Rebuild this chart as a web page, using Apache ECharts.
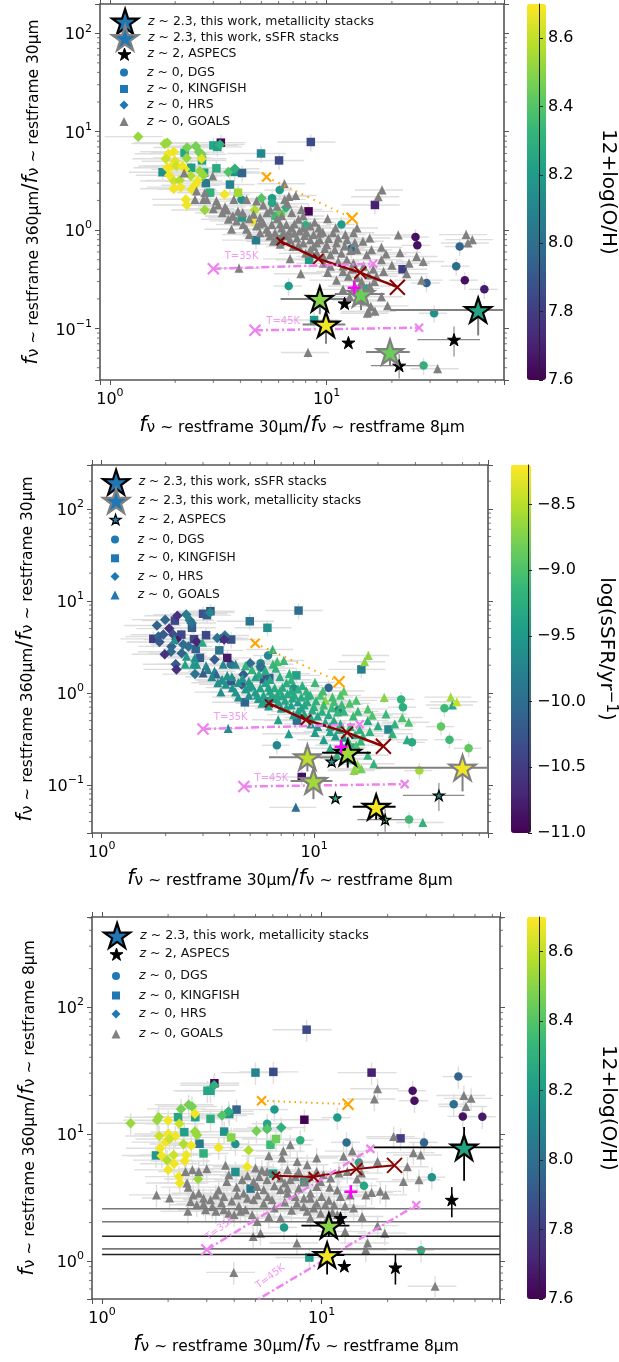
<!DOCTYPE html>
<html><head><meta charset="utf-8">
<style>html,body{margin:0;padding:0;background:#fff}#c{width:619px;height:1362px}</style>
<script src="https://cdn.jsdelivr.net/npm/echarts@6/dist/echarts.min.js"></script>
</head><body><div id="c"></div>
<script>
// ---- data: [x, y, colour value(s)] ----
// KINGFISH, panels 1 and 2: x, f360/f30, 12+log(O/H), log sSFR
const kingfish = [[3.25,7.73,7.62,-10.3],[3.0,7.25,8.25,-10.3],[3.13,7.0,8.22,-10.2],[2.21,6.1,8.25,-10.4],[2.66,5.1,8.22,-10.2],[4.98,6.0,8.1,-9.9],[8.45,7.85,7.85,-10.0],[6.03,5.1,7.85,-9.6],[1.75,3.87,8.15,-10.5],[2.37,4.3,8.22,-10.4],[2.72,3.83,8.22,-10.4],[3.1,4.24,8.28,-10.4],[3.77,3.9,8.15,-10.5],[4.07,3.8,7.95,-10.3],[2.77,3.0,8.05,-10.1],[3.58,2.9,8.1,-9.95],[2.9,2.4,8.3,-10.2],[3.9,2.4,8.55,-10.8],[8.25,1.55,7.6,-9.4],[16.7,1.8,7.7,-9.8],[4.06,1.34,8.2,-10.3],[5.8,1.4,8.35,-10.3],[6.15,1.45,8.45,-10.2],[4.72,0.79,8.05,-10.1],[6.03,0.81,8.2,-10.1],[8.3,0.5,8.2,-10.0],[22.4,0.4,7.8,-9.7],[8.75,0.122,8.2,-10.9]];
const dgs = [[4.05,2.03,8.15,-9.9],[6.07,2.55,8.2,-9.7],[5.6,2.1,8.2,-9.7],[5.6,1.88,8.25,-9.6],[8.0,1.12,8.3,-9.6],[11.7,1.14,8.2,-10.1],[13.0,0.65,8.0,-9.8],[25.7,0.85,7.65,-9.2],[26.2,0.7,7.65,-9.25],[41.1,0.68,7.95,-9.1],[39.6,0.43,8.0,-8.9],[28.9,0.29,7.95,-9.3],[43.4,0.31,7.65,-9.1],[53.4,0.25,7.68,-8.9],[31.3,0.143,8.15,-8.6],[6.68,0.27,8.2,-9.7],[28.0,0.042,8.3,-9.1],[15.3,0.255,8.25,-9.3]];
const hrsMetal = [[1.35,8.9,8.53],[1.79,7.55,8.53],[1.84,7.7,8.53],[2.27,6.9,8.47],[2.49,7.1,8.47],[3.22,7.4,8.3],[2.58,6.2,8.47],[2.65,5.9,8.47],[2.65,5.3,8.65],[2.26,5.4,8.53],[1.97,6.25,8.68],[1.86,5.97,8.68],[1.81,5.3,8.62],[2.0,5.0,8.65],[1.84,4.3,8.68],[1.93,4.47,8.68],[2.03,4.47,8.62],[2.16,4.47,8.68],[2.22,4.14,8.68],[1.88,3.6,8.68],[2.36,3.55,8.57],[2.6,3.98,8.53],[2.7,3.6,8.53],[3.52,3.9,8.4],[3.77,4.2,8.3],[1.97,3.15,8.62],[2.1,3.2,8.57],[2.54,3.15,8.68],[2.47,2.85,8.68],[1.97,2.63,8.68],[2.12,2.73,8.68],[2.38,2.59,8.68],[3.38,2.3,8.68],[2.24,2.05,8.68],[2.26,1.8,8.68],[2.74,1.6,8.53],[4.66,1.6,8.57],[4.54,1.24,8.68],[5.0,2.1,8.4],[6.5,1.7,8.3]];
const hrsSsfr = [[1.99,6.25,-10.05],[2.27,6.9,-10.6],[1.82,5.4,-10.1],[2.5,7.1,-9.8],[2.6,6.15,-9.8],[2.65,5.75,-9.9],[3.24,7.5,-9.7],[2.08,5.0,-10.6],[1.85,4.1,-10.1],[1.95,4.3,-10.2],[1.87,3.58,-10.2],[2.25,3.8,-10.8],[2.17,4.3,-10.3],[2.13,3.2,-10.1],[2.12,2.8,-10.0],[1.98,2.63,-10.6],[2.42,3.35,-10.0],[2.38,2.7,-10.1],[2.56,3.2,-10.0],[2.8,3.6,-10.7],[3.8,4.2,-9.9],[3.5,3.95,-9.9],[3.77,3.8,-10.6],[2.23,2.05,-10.2],[2.25,1.8,-10.6],[2.75,1.6,-9.9],[3.4,2.3,-10.2],[4.65,1.58,-10.2],[5.0,2.1,-10.0],[5.6,1.93,-10.0],[4.56,1.23,-10.3]];
// GOALS, panels 1 and 2: x, f360/f30, log sSFR
const goals = [[6.38,2.96,-9.2],[18.0,2.55,-8.7],[17.3,2.18,-8.7],[7.2,2.25,-9.1],[6.7,2.2,-9.05],[6.4,2.05,-9.15],[2.98,3.55,-9.3],[2.51,2.5,-9.5],[2.74,2.4,-9.6],[2.47,2.05,-9.4],[2.7,2.05,-9.5],[2.8,2.05,-9.55],[3.1,1.97,-9.7],[3.16,1.8,-9.8],[3.0,1.65,-10.2],[3.4,1.72,-9.7],[3.47,1.6,-10.1],[3.73,2.05,-9.7],[4.75,1.97,-9.2],[4.27,2.05,-9.75],[5.5,1.6,-9.3],[5.1,1.8,-9.2],[5.9,1.75,-9.3],[6.6,1.85,-9.2],[7.65,1.62,-9.2],[3.67,1.38,-9.6],[2.2,3.8,-9.6],[3.7,1.39,-9.6],[3.52,1.29,-9.6],[3.84,1.24,-9.6],[3.64,1.02,-9.6],[4.12,1.14,-9.6],[4.27,1.02,-9.55],[4.93,1.34,-9.5],[5.1,1.19,-9.5],[4.75,1.1,-9.5],[4.93,0.94,-9.6],[5.28,1.02,-9.45],[5.58,1.14,-9.4],[5.78,0.94,-9.4],[6.2,1.05,-9.35],[6.52,1.14,-9.3],[6.9,1.05,-9.25],[7.41,1.29,-9.25],[7.8,1.39,-9.2],[8.4,1.1,-9.25],[8.09,0.94,-9.3],[9.2,1.05,-9.2],[10.1,1.3,-9.1],[13.8,1.05,-8.9],[13.3,0.94,-9.0],[11.3,0.83,-8.7],[10.7,0.94,-9.0],[21.4,0.89,-8.7],[44,0.9,-8.6],[44.8,0.74,-9.3],[47,0.8,-8.45],[5.68,0.77,-9.4],[5.47,0.87,-9.5],[6.52,0.87,-9.4],[7.3,0.83,-9.35],[6.78,0.8,-9.4],[7.8,0.74,-9.4],[8.4,0.8,-9.45],[9.0,0.74,-9.35],[10,0.71,-9.2],[10.9,0.63,-9.25],[14.7,0.77,-9.0],[15.8,0.83,-9.0],[17.9,0.67,-9.0],[16.1,0.63,-9.1],[21.8,0.59,-9.1],[26.0,0.54,-9.0],[27.9,0.48,-9.0],[20,0.44,-9.3],[24,0.46,-9.2],[17.9,0.5,-9.3],[18.3,0.38,-9.2],[23.4,0.36,-9.2],[27.4,0.31,-9.3],[6.78,0.51,-9.4],[7.6,0.36,-9.45],[3.94,0.41,-9.6],[8.4,0.63,-9.45],[9,0.59,-9.4],[9.66,0.54,-9.4],[10.4,0.43,-9.5],[9.66,0.46,-9.5],[11.3,0.48,-9.4],[12.4,0.5,-9.3],[13.3,0.46,-9.3],[11.9,0.38,-9.4],[11.1,0.31,-9.45],[12.6,0.34,-9.5],[13.8,0.33,-9.5],[15.6,0.35,-9.3],[16.4,0.4,-9.2],[14.5,0.3,-9.2],[15.8,0.27,-9.0],[17.9,0.21,-9.15],[19.1,0.17,-9.2],[16,0.167,-8.7],[15.6,0.148,-8.6],[15.4,0.143,-8.7],[8.2,0.057,-10.0],[32.5,0.039,-9.2],[14.2,0.195,-9.1],[12.8,0.21,-9.2],[11.9,0.25,-9.3],[9.3,0.8,-9.3],[7.5,0.98,-9.3],[6.3,0.94,-9.35],[11.1,0.74,-9.1],[12.1,0.69,-9.1],[13.8,0.63,-9.15],[12.4,0.8,-9.05],[3.3,1.5,-9.7],[3.9,1.55,-9.6],[4.1,1.5,-9.6],[4.4,1.3,-9.55],[4.6,1.45,-9.5],[5.3,1.5,-9.4],[5.9,1.3,-9.4],[6.2,1.4,-9.35],[6.9,1.5,-9.3],[7.1,1.15,-9.3],[7.8,1.05,-9.3],[8.8,1.2,-9.25],[9.6,0.95,-9.2],[4.4,0.9,-9.6],[4.9,1.15,-9.5],[5.4,0.95,-9.45],[5.9,0.85,-9.45],[6.1,1.15,-9.4],[6.7,0.95,-9.35],[7.1,0.93,-9.35],[7.9,0.88,-9.35],[8.7,0.9,-9.3],[9.3,0.93,-9.25],[10.2,0.82,-9.2],[9.8,0.65,-9.3],[8.7,0.68,-9.4],[7.4,0.7,-9.4],[7,0.68,-9.45],[6.1,0.72,-9.45],[8.0,0.58,-9.45],[10.4,0.56,-9.35],[11.7,0.58,-9.3],[11.9,0.43,-9.35],[13.1,0.4,-9.3],[10.1,0.37,-9.45],[14.8,0.43,-9.2],[15.3,0.56,-9.1],[18.8,0.57,-9.0],[16.6,0.3,-9.15],[13.5,0.27,-9.25],[17,0.34,-9.2],[15.1,0.19,-9.0],[16.7,0.15,-8.8],[13.5,0.75,-9.1],[12.9,0.62,-9.15],[12.2,0.9,-9.05],[11,1.05,-9.05]];
// Panel 3: x, f360/f8, 12+log(O/H)
const kingfish3 = [[8.55,66,7.85],[5.0,30.3,8.1],[6.03,30.7,7.85],[16.9,30.3,7.7],[3.25,25,7.62],[3.02,21.8,8.25],[3.12,21.8,8.25],[4.1,15.5,7.95],[8.35,12.9,7.6],[2.22,13.5,8.25],[2.66,13.5,8.22],[3.12,13.1,8.28],[3.6,10.4,8.15],[3.87,9.35,8.5],[2.37,10.3,8.22],[2.78,8.35,8.05],[1.76,6.75,8.2],[2.9,7,8.3],[4.05,5,8.15],[4.75,3.7,8.05],[5.85,8.2,8.35],[6.2,9.1,8.45],[6.02,4.85,8.2],[8.35,4.15,8.2],[22.9,9.2,7.8],[8.8,1.06,8.2],[3.8,14.3,8.15]];
const dgs3 = [[42,28.2,7.95],[26,21.8,7.65],[26.5,18.2,7.65],[40,17.1,8.0],[44,13.7,7.65],[54,13.6,7.68],[6.1,15.5,8.2],[5.65,12,8.25],[5.65,11,8.25],[11.8,13.4,8.2],[8.0,8.9,8.3],[13,8.55,8.0],[29.3,8.55,7.95],[4.05,8.3,8.15],[14.8,5.95,8.25],[15.6,3.9,8.25],[31.8,4.55,8.15],[6.75,1.83,8.2],[28.4,1.21,8.3]];
const hrs3 = [[1.35,12.1,8.53],[1.81,13.5,8.53],[1.78,12.8,8.53],[2.48,16.9,8.47],[2.29,15.7,8.47],[2.57,16.4,8.47],[2.65,14.4,8.68],[3.24,24.1,8.3],[2.0,12.7,8.68],[2.25,12,8.62],[3.77,15,8.3],[3.52,13.9,8.4],[1.82,9.6,8.62],[2.0,9.95,8.68],[2.16,9.6,8.68],[1.95,8.6,8.68],[2.03,9.1,8.62],[1.84,7.7,8.68],[1.87,6.7,8.68],[2.12,6.8,8.62],[2.35,8.3,8.57],[2.55,8.1,8.68],[2.71,9.8,8.53],[1.98,6.2,8.57],[2.13,5.8,8.68],[2.38,6.1,8.68],[2.42,6.8,8.68],[3.4,7.8,8.68],[4.65,7.4,8.57],[4.58,5.5,8.68],[2.0,5.2,8.68],[2.24,4.6,8.68],[2.26,4.1,8.68],[2.74,4.4,8.53],[5.05,10.5,8.47],[5.65,10.9,8.4],[6.55,11.2,8.3],[2.65,10.4,8.53]];
const goals3 = [[18,22.6],[17.4,18.8],[44.5,20],[48,19],[45.5,16.4],[7.2,8.2],[6.7,7.3],[5.75,6.7],[6.6,6.45],[7.75,6.05],[9.5,6.45],[8.6,5.7],[13.8,7.3],[12.6,6.65],[21.3,9.5],[26.2,7.1],[28.3,6.8],[18,6.05],[24.6,5.5],[23.6,4.2],[27.8,4.35],[15,5.9],[2.4,5.05],[2.58,5.2],[2.76,5.05],[3,5.3],[3.65,5.65],[3.78,4.75],[4.35,4.35],[3.4,3.6],[2.44,4.1],[2.47,3.8],[5.0,5.37],[5.35,5.15],[5.65,5.05],[4.6,4.67],[7,5.2],[7.87,5.05],[5.65,4.35],[6.5,4.48],[7.2,4.35],[8.3,4.2],[9.5,5.05],[10.2,4.75],[11,4.48],[12,4.9],[13.1,5.05],[9.5,3.85],[8.9,3.4],[7.87,3.73],[7,3.73],[6.5,3.62],[5.45,3.62],[5.09,3.85],[4.42,3.4],[4.12,3.3],[3.59,3.2],[3.12,3.02],[2.76,3.4],[2.53,2.93],[2.7,2.76],[2.96,2.52],[3.18,2.68],[3.59,2.52],[3.78,2.37],[4.27,2.45],[4.5,2.52],[4.9,3.02],[5.45,2.84],[5.95,3.02],[7,3.4],[7.72,2.84],[8.3,2.68],[8.9,3.11],[9.5,2.84],[10.4,2.76],[11.4,2.76],[12.2,3.2],[14,2.6],[15.3,2.23],[9.9,2.37],[8.9,2.17],[6.5,2.17],[5.75,2.23],[5.09,2.04],[4.83,2.3],[5.27,1.65],[4.88,1.55],[7.72,1.38],[12.8,1.7],[16.2,1.38],[15.9,1.22],[19.4,1.65],[18,1.89],[11.8,2.3],[15.9,3.3],[16.9,3.45],[18.5,3.52],[19.6,3.3],[1.77,3.3],[2.03,3.12],[2.46,2.45],[3.98,0.81],[32.9,0.63],[2.6,3.3],[2.9,3.1],[3.3,3.3],[3.5,2.85],[3.9,2.95],[4.2,2.7],[4.6,3.1],[4.0,2.3],[3.3,2.45],[2.9,2.8],[5.1,3.3],[5.7,3.2],[6.1,2.6],[6.8,2.9],[7.3,2.5],[7.6,3.2],[8.3,3.1],[8.6,2.45],[9.2,2.6],[10,3.2],[10.8,3],[11.2,2.4],[10.6,2.15],[12.8,2.7],[13.5,3.3],[6.1,3.9],[6.8,4.1],[7.6,4.6],[8.8,4.6],[9.9,4.2],[10.9,3.8],[11.8,3.6],[5.2,4.6],[4.9,4.2],[3.7,4.2],[4.1,3.8],[14.5,4.4],[15.2,4.9]];
// ASPECS: x, y, colour, xlo, xhi, ylo, yhi
const aspecs12 = [[12.1,0.18,-9.7,12.1,12.1,0.18,0.18],[12.6,0.072,-9.3,12.6,12.6,0.072,0.072],[21.6,0.042,-9.05,16,28,0.031,0.055],[38.7,0.077,-9.7,26.2,51,0.052,0.105]];
const aspecs3 = [[39.2,3.02,39.2,39.2,2.2,3.8],[21.7,0.886,21.7,21.7,0.65,1.12],[12.7,0.91,12.7,12.7,0.91,0.91],[12.2,2.17,12.2,12.2,2.17,2.17]];
// Stacks: x, y, metallicity or sSFR, xlo, xhi, ylo, yhi
const metalStacks = [[9.3,0.2,8.5,6.13,12.6,0.14,0.26],[9.93,0.11,8.68,7.75,12.2,0.07,0.143],[50,0.154,8.24,19.6,66,0.085,0.2]];
const ssfrStacks = [[14.4,0.224,8.45,10.9,18.5,0.154,0.26],[19.6,0.0577,8.45,15.2,24.2,0.042,0.07]];
const metalStacksSsfr = [-8.48,-8.6,-8.25];
const ssfrStacksSsfr = [-8.6,-8.25];
const metalStacks3 = [[10.8,1.89,8.5,8.1,13.4,1.55,2.37],[10.6,1.11,8.68,8.6,12.7,0.78,1.34],[44.6,7.8,8.24,17.3,66,4.26,11.3]];
const wideBars3 = [[2.57,'#777'],[2.03,'#777'],[1.56,'#222'],[1.24,'#777'],[1.12,'#222']];
// Models
const orange12 = [[5.28,3.46],[13.1,1.32]], orange3 = [[5.33,18.2],[13.2,17.1]];
const darkred12 = [[6.13,0.77],[9.15,0.51],[14.3,0.37],[21.2,0.263]], darkred3 = [[6.2,4.67],[9.2,4.56],[14.4,5.27],[21.5,5.64]];
const t35_12 = [[3.0,0.405],[16.4,0.455]], t45_12 = [[4.67,0.096],[26.7,0.102]];
const t35_3 = [[3.0,1.22],[16.7,7.6]], t45_3 = [[4.67,0.45],[27,2.74]];
const plus12 = [[13.4,0.26]], plus3 = [[13.6,3.49]];
const minorMults = [2,3,4,5,6,7,8,9];
const decades = [-2,-1,0,1,2];

const FONT='DejaVu Sans';
const VIRIDIS=['#440154','#482878','#3e4989','#31688e','#26828e','#1f9e89','#35b779','#6ece58','#b5de2b','#fde725'];
const STAR='path://M50 0L61.2 34.6L97.6 34.5L68.1 55.9L79.4 90.5L50 69L20.6 90.5L31.9 55.9L2.4 34.5L38.8 34.6Z';
const CROSS='path://M0 0L10 10M10 0L0 10', PLUS='path://M5 0L5 10M0 5L10 5';
const BLUE='#1f77b4', GREY='#808080', LIGHT='#dedede', AXC='#555';
const N={m:'z ~ 2.3, this work, metallicity stacks',s:'z ~ 2.3, this work, sSFR stacks',a:'z ~ 2, ASPECS',d:'z ~ 0, DGS',k:'z ~ 0, KINGFISH',h:'z ~ 0, HRS',g:'z ~ 0, GOALS'};

const panels=[
 {l:100,t:4,w:404,h:376,xmax:65.8,ymin:0.03,ymax:198,cl:527,cw:19,cmin:7.6,cmax:8.7,civ:0.2,ytext:'30',nameGapX:32,nameGapY:58,cname:'12+log(O/H)',cGap:59,
  legend:{cx:124,tx:147,ys:[21,37.5,54,70.5,87,103.5,120],fs:12.45}},
 {l:92,t:465,w:396,h:368,xmax:65.9,ymin:0.03,ymax:300,cl:511,cw:20,cmin:-11,cmax:-8.2,civ:0.5,ytext:'30',nameGapX:32,nameGapY:56,cname:'{m|log(sSFR/yr}{u|−1}{m|)}',cGap:67,
  legend:{cx:115,tx:137.7,ys:[481.7,500.4,519,537.6,556.3,575,593.6],fs:12.25}},
 {l:92,t:917,w:408,h:382,xmax:65,ymin:0.5,ymax:509,cl:527,cw:19,cmin:7.6,cmax:8.7,civ:0.2,ytext:'8',nameGapX:32,nameGapY:54,cname:'12+log(O/H)',cGap:59,
  legend:{cx:116,tx:139,ys:[935,954,973.5,993,1012,1032],fs:12.6}}
];

const option={animation:false,backgroundColor:'#fff',textStyle:{fontFamily:FONT},grid:[],xAxis:[],yAxis:[],series:[],visualMap:[],legend:[]};

const logLabel=v=>{const l=Math.log10(v),e=Math.round(l);if(Math.abs(l-e)>1e-6)return '';return '{b|10}{e|'+(e<0?'−'+(-e):e)+'}';};
const logRich={b:{fontFamily:FONT,fontSize:16,color:'#000',verticalAlign:'bottom',lineHeight:20},e:{fontFamily:FONT,fontSize:11,color:'#000',verticalAlign:'top',lineHeight:20,padding:[0,0,6,0]}};
const nameRich={f:{fontFamily:FONT,fontStyle:'italic',fontSize:21,color:'#000',verticalAlign:'bottom',lineHeight:24},s:{fontFamily:FONT,fontSize:15.5,color:'#000',verticalAlign:'bottom',lineHeight:24,padding:[7,0,0,0]},n:{fontFamily:FONT,fontSize:21,color:'#000',verticalAlign:'bottom',lineHeight:24}};

function crossErr(xe,ye,color,lw){
  return (p,api)=>{const x=api.value(0),y=api.value(1);
    const a=api.coord([x*(1-xe),y]),b=api.coord([x*(1+xe),y]),c=api.coord([x,y*(1-ye)]),d=api.coord([x,y*(1+ye)]);
    return {type:'group',children:[
      {type:'line',shape:{x1:a[0],y1:a[1],x2:b[0],y2:b[1]},style:{stroke:color,lineWidth:lw}},
      {type:'line',shape:{x1:c[0],y1:c[1],x2:d[0],y2:d[1]},style:{stroke:color,lineWidth:lw}}]};};
}
function boundErr(color,lw){ // columns 2..5 : xlo,xhi,ylo,yhi
  return (p,api)=>{const x=api.value(0),y=api.value(1);
    const a=api.coord([api.value(2),y]),b=api.coord([api.value(3),y]),c=api.coord([x,api.value(4)]),d=api.coord([x,api.value(5)]);
    return {type:'group',children:[
      {type:'line',shape:{x1:a[0],y1:a[1],x2:b[0],y2:b[1]},style:{stroke:color,lineWidth:lw}},
      {type:'line',shape:{x1:c[0],y1:c[1],x2:d[0],y2:d[1]},style:{stroke:color,lineWidth:lw}}]};};
}

panels.forEach((P,i)=>{
  const gi=option.grid.length, ax=option.xAxis.length;
  option.grid.push({left:P.l,top:P.t,width:P.w,height:P.h,containLabel:false,show:false});
  option.grid.push({left:P.cl,top:P.t,width:P.cw,height:P.h,containLabel:false,show:false});
  const lineS={show:true,onZero:false,lineStyle:{color:AXC,width:1.6}};
  const tickS={show:true,length:5,lineStyle:{color:AXC,width:1}};
  const xmin=0.9;
  const common={type:'log',logBase:10,splitLine:{show:false},axisLine:lineS,axisTick:tickS};
  const sub=t=>'{f|f}{s|ν ~ restframe '+t+'μm}';
  option.xAxis.push({...common,gridIndex:gi,position:'bottom',min:xmin,max:P.xmax,
    axisLabel:{formatter:logLabel,rich:logRich,margin:8,showMinLabel:true,showMaxLabel:true,hideOverlap:false},
    name:sub('30')+'{n|/}'+sub('8'),nameLocation:'middle',nameGap:P.nameGapX,nameTextStyle:{rich:nameRich}});
  option.xAxis.push({...common,gridIndex:gi,position:'top',min:xmin,max:P.xmax,axisLabel:{show:false}});
  option.xAxis.push({type:'value',gridIndex:gi+1,min:0,max:1,show:false});
  option.yAxis.push({...common,gridIndex:gi,position:'left',min:P.ymin,max:P.ymax,
    axisLabel:{formatter:logLabel,rich:logRich,margin:8,hideOverlap:false},
    name:sub('360')+'{n|/}'+sub(P.ytext),nameLocation:'middle',nameRotate:90,nameGap:P.nameGapY,nameTextStyle:{rich:nameRich}});
  option.yAxis.push({...common,gridIndex:gi,position:'right',min:P.ymin,max:P.ymax,axisLabel:{show:false}});
  option.yAxis.push({type:'value',gridIndex:gi+1,position:'right',min:P.cmin,max:P.cmax,interval:P.civ,z:6,
    axisLine:{show:true,onZero:false,lineStyle:{color:'#222',width:1}},axisTick:{show:true,length:4,lineStyle:{color:'#222'}},splitLine:{show:false},
    axisLabel:{fontFamily:FONT,fontSize:16,color:'#000',margin:9,showMaxLabel:false,formatter:v=>v.toFixed(1).replace('-','−')},
    name:P.cname,nameLocation:'middle',nameRotate:-90,nameGap:P.cGap,
    nameTextStyle:{fontFamily:FONT,fontSize:20,color:'#000',rich:{m:{fontFamily:FONT,fontSize:20,color:'#000'},u:{fontFamily:FONT,fontSize:15,color:'#000',verticalAlign:'top',padding:[0,0,8,0]}}}});

  const onMain={xAxisIndex:ax,yAxisIndex:i*3};
  const s=option.series, vmIdx=[];
  const errSeries=(rows,xe,ye)=>s.push({type:'custom',...onMain,data:rows,renderItem:crossErr(xe,ye,LIGHT,1.4),clip:true,silent:true,z:1,encode:{x:0,y:1}});
  const bounds=(rows,color,lw)=>s.push({type:'custom',...onMain,data:rows,renderItem:boundErr(color,lw),clip:true,silent:true,z:5,encode:{x:0,y:1}});
  const scatter=(name,rows,sym,size,colored,extra)=>{ if(colored)vmIdx.push(s.length);
    s.push({type:'scatter',name,...onMain,data:rows,symbol:sym,symbolSize:size,symbolKeepAspect:true,itemStyle:{color:GREY,opacity:1},silent:true,z:3,...(extra||{})});};
  const starStyle=(border,w,color)=>({itemStyle:{opacity:1,borderColor:border,borderWidth:w,...(color?{color}:{})}});
  const model=(rows,color,lw,type,sym,sizes,symW)=>s.push({type:'line',...onMain,data:rows,symbol:sym,showSymbol:true,showAllSymbol:true,symbolSize:(v,p)=>sizes[p.dataIndex],
    lineStyle:{color,width:lw,type},itemStyle:{color:'none',borderColor:color,borderWidth:symW},silent:true,z:6});
  const tlabel=(txt,x,y,rot)=>s.push({type:'scatter',...onMain,symbolSize:0,silent:true,z:6,data:[{value:[x,y],name:txt}],
    label:{show:true,position:'inside',formatter:'{b}',fontFamily:FONT,fontSize:10,color:'#ee82ee',rotate:rot}});
  const plusMark=rows=>s.push({type:'scatter',...onMain,data:rows,symbol:PLUS,symbolSize:13,itemStyle:{opacity:1,color:'none',borderColor:'#ff00ff',borderWidth:2.5},silent:true,z:10});
  const bnd=rows=>rows.map(r=>[r[0],r[1],r[3],r[4],r[5],r[6]]);

  if(i<2){
    const c=i==0?2:3;
    const col=(rows,k)=>rows.map(r=>[r[0],r[1],r[k]]);
    errSeries(dgs.map(r=>r.slice(0,2)),0.15,0.2);errSeries(kingfish.map(r=>r.slice(0,2)),0.3,0.2);
    errSeries((i==0?hrsMetal:hrsSsfr).map(r=>r.slice(0,2)),0.3,0.12);errSeries(goals.map(r=>r.slice(0,2)),0.25,0.12);
    scatter(N.d,col(dgs,c),'circle',8.5,true);
    scatter(N.k,col(kingfish,c),'rect',8.5,true);
    scatter(N.h,i==0?hrsMetal:hrsSsfr,'diamond',10.5,true);
    scatter(N.g,i==0?goals.map(r=>[r[0],r[1]]):goals,'triangle',9,i==1);
    model(orange12,'#ffa500',2,[1.5,5],CROSS,[9,11],2.2);
    model(darkred12,'#8b0000',2.5,'solid',CROSS,[8,10,12,15],2);
    model(t35_12,'#ee82ee',2.5,[8,3,2,3],CROSS,[11,8],2.2);
    model(t45_12,'#ee82ee',2.5,[8,3,2,3],CROSS,[11,8],2.2);
    plusMark(plus12);
    tlabel('T=35K',4.05,0.54,0);tlabel('T=45K',6.3,0.117,0);
    bounds(bnd(aspecs12),'#8c8c8c',1.2);
    if(i==0){
      scatter(N.a,aspecs12.map(r=>[r[0],r[1]]),STAR,13,false,{...starStyle('#000',1,'#000'),z:6});
      bounds(bnd(metalStacks),'#808080',2);
      bounds(bnd(ssfrStacks),'#808080',2);
      scatter(N.s,ssfrStacks.map(r=>r.slice(0,3)),STAR,26,true,{...starStyle('#808080',2.2),z:8});
      scatter(N.m,metalStacks.map(r=>r.slice(0,3)),STAR,26,true,{...starStyle('#000',2.2),z:9});
    }else{
      scatter(N.a,aspecs12.map(r=>[r[0],r[1],r[2]]),STAR,11,true,{...starStyle('#000',1.2),z:6});
      bounds(bnd(metalStacks),'#808080',2);
      bounds(bnd(ssfrStacks),'#000',2);
      scatter(N.m,metalStacks.map((r,k)=>[r[0],r[1],metalStacksSsfr[k]]),STAR,26,true,{...starStyle('#808080',2.2),z:8});
      scatter(N.s,ssfrStacks.map((r,k)=>[r[0],r[1],ssfrStacksSsfr[k]]),STAR,26,true,{...starStyle('#000',2.2),z:9});
    }
  }else{
    errSeries(dgs3.map(r=>r.slice(0,2)),0.15,0.2);errSeries(kingfish3.map(r=>r.slice(0,2)),0.3,0.2);
    errSeries(hrs3.map(r=>r.slice(0,2)),0.3,0.2);errSeries(goals3,0.25,0.2);
    scatter(N.d,dgs3,'circle',8.5,true);
    scatter(N.k,kingfish3,'rect',8.5,true);
    scatter(N.h,hrs3,'diamond',10.5,true);
    scatter(N.g,goals3,'triangle',9,false);
    model(orange3,'#ffa500',2,[1.5,4],CROSS,[9,11],2.2);
    model(darkred3,'#8b0000',2,'solid',CROSS,[8,10,12,15],2);
    model(t35_3,'#ee82ee',2.5,[8,3,2,3],CROSS,[11,8],2.2);
    model(t45_3,'#ee82ee',2.5,[8,3,2,3],CROSS,[11,8],2.2);
    plusMark(plus3);
    tlabel('T=35K',3.45,1.8,37);tlabel('T=45K',5.85,0.75,37);
    bounds(wideBars3.filter(r=>r[1]=='#777').map(r=>[8,r[0],1,65,r[0],r[0]]),'#777',1.6);
    bounds(wideBars3.filter(r=>r[1]!='#777').map(r=>[8,r[0],1,65,r[0],r[0]]),'#222',1.4);
    bounds(aspecs3,'#000',1.6);
    scatter(N.a,aspecs3.map(r=>[r[0],r[1]]),STAR,13,false,{...starStyle('#000',1,'#000'),z:6});
    bounds(bnd(metalStacks3),'#000',1.8);
    scatter(N.m,metalStacks3.map(r=>r.slice(0,3)),STAR,26,true,{...starStyle('#000',2.2),z:9});
  }

  // minor ticks on all four sides
  const xm=[],ym=[];
  decades.forEach(d=>minorMults.forEach(m=>{const v=m*Math.pow(10,d);
    if(v>xmin&&v<P.xmax)xm.push([v,P.ymin]); if(v>P.ymin&&v<P.ymax)ym.push([xmin,v]);}));
  const tickLine=(x1,y1,x2,y2)=>({type:'line',shape:{x1,y1,x2,y2},style:{stroke:AXC,lineWidth:0.8}});
  s.push({type:'custom',...onMain,data:xm,clip:false,silent:true,z:2,encode:{x:0,y:1},renderItem:(p,api)=>{const c=api.coord([api.value(0),api.value(1)]);const g=p.coordSys;
    return {type:'group',children:[tickLine(c[0],g.y+g.height,c[0],g.y+g.height+3),tickLine(c[0],g.y,c[0],g.y-3)]};}});
  s.push({type:'custom',...onMain,data:ym,clip:false,silent:true,z:2,encode:{x:0,y:1},renderItem:(p,api)=>{const c=api.coord([api.value(0),api.value(1)]);const g=p.coordSys;
    return {type:'group',children:[tickLine(g.x,c[1],g.x-3,c[1]),tickLine(g.x+g.width,c[1],g.x+g.width+3,c[1])]};}});

  option.visualMap.push({type:'continuous',show:true,z:1,seriesIndex:vmIdx,dimension:2,min:P.cmin,max:P.cmax,left:P.cl,top:P.t,itemWidth:P.cw,itemHeight:P.h,padding:0,
    calculable:false,showLabel:false,text:null,hoverLink:false,inRange:{color:VIRIDIS},outOfRange:{color:VIRIDIS[9]}});

  const order=i==0?[['m',26,BLUE,'#000',2.2,STAR],['s',26,BLUE,'#808080',2.2,STAR],['a',13,'#000','#000',1,STAR],['d',8,BLUE,null,0,'circle'],['k',8,BLUE,null,0,'rect'],['h',9,BLUE,null,0,'diamond'],['g',9,GREY,null,0,'triangle']]
    :i==1?[['s',26,BLUE,'#000',2.2,STAR],['m',26,BLUE,'#808080',2.2,STAR],['a',11,BLUE,'#000',1.2,STAR],['d',8,BLUE,null,0,'circle'],['k',8,BLUE,null,0,'rect'],['h',9,BLUE,null,0,'diamond'],['g',9,BLUE,null,0,'triangle']]
    :[['m',26,BLUE,'#000',2.2,STAR],['a',13,'#000','#000',1,STAR],['d',8,BLUE,null,0,'circle'],['k',8,BLUE,null,0,'rect'],['h',9,BLUE,null,0,'diamond'],['g',9,GREY,null,0,'triangle']];
  order.forEach((o,k)=>{
    const [key,size,fill,border,bw,icon]=o, L=P.legend;
    const left=L.cx-size/2, pad=L.tx-(left+size+5);
    option.legend.push({left,top:L.ys[k]-size/2,padding:0,itemWidth:size,itemHeight:size,selectedMode:false,orient:'horizontal',
      data:[{name:N[key],icon,itemStyle:{color:fill,borderColor:border||fill,borderWidth:bw,opacity:1}}],
      formatter:n=>'{i|z}{t|'+n.slice(1)+'}',
      textStyle:{padding:[0,0,0,0],rich:{
        i:{fontFamily:FONT,fontStyle:'italic',fontSize:L.fs,color:'#111',padding:[0,0,0,pad]},
        t:{fontFamily:FONT,fontSize:L.fs,color:'#111'}}}});
  });
});
const chart=echarts.init(document.getElementById('c'),null,{renderer:'canvas',width:619,height:1362});
chart.setOption(option);
</script></body></html>
